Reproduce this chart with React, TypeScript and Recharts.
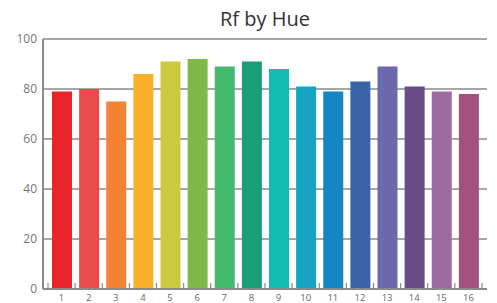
import React from 'react'
import { BarChart, Bar, XAxis, YAxis, CartesianGrid, Cell } from 'recharts'

const hues = ['1', '2', '3', '4', '5', '6', '7', '8', '9', '10', '11', '12', '13', '14', '15', '16']
const rfValues = [79, 80, 75, 86, 91, 92, 89, 91, 88, 81, 79, 83, 89, 81, 79, 78]
const hueColors = [
  '#e8262a', '#e94b4d', '#f48134', '#fbb02c', '#ccc941', '#7fba48', '#45b96d', '#189e7b',
  '#12bcb1', '#14a5c2', '#1585c4', '#3a63a9', '#6b68ae', '#694c85', '#9d6aa2', '#a64f81',
]
const yTicks = [0, 20, 40, 60, 80, 100]

const data = hues.map((hue, i) => ({ hue, rf: rfValues[i] }))

const AXIS = '#8a8a8a'
const FONT = '"Open Sans", sans-serif'

function HueTick(props: any) {
  const { x, y, payload, index } = props
  const half = payload && payload.offset != null ? payload.offset : 13.5
  const axisY = y
  return (
    <g>
      <line x1={x - half} x2={x - half} y1={axisY} y2={axisY - 6} stroke={AXIS} strokeWidth={1.2} />
      {index === hues.length - 1 && (
        <line x1={x + half} x2={x + half} y1={axisY} y2={axisY - 6} stroke={AXIS} strokeWidth={1.2} />
      )}
      <text x={x} y={axisY + 11.5} textAnchor="middle" fontSize={9.5} fill="#666" fontFamily={FONT}>
        {payload.value}
      </text>
    </g>
  )
}

export default function App() {
  return (
    <div style={{ position: 'absolute', left: 0, top: 0, width: 497, height: 303, background: '#fff' }}>
      <div
        style={{
          position: 'absolute',
          left: 43,
          width: 444,
          top: 4,
          textAlign: 'center',
          fontFamily: FONT,
          fontSize: 20,
          color: '#333',
          lineHeight: '30px',
        }}
      >
        Rf by Hue
      </div>
      <BarChart
        width={497}
        height={303}
        data={data}
        margin={{ top: 39, right: 10, left: 0, bottom: 0 }}
        barSize={20}
      >
        <CartesianGrid vertical={false} stroke={AXIS} strokeWidth={1.5} />
        <XAxis
          dataKey="hue"
          height={14}
          padding={{ left: 5, right: 5 }}
          axisLine={{ stroke: AXIS, strokeWidth: 2 }}
          tickLine={false}
          tickSize={0}
          tickMargin={0}
          interval={0}
          tick={<HueTick />}
        />
        <YAxis
          width={43}
          domain={[0, 100]}
          ticks={yTicks}
          axisLine={{ stroke: AXIS, strokeWidth: 2 }}
          tickLine={false}
          tickSize={0}
          tickMargin={6}
          tick={{ fill: '#777', fontSize: 12, fontFamily: FONT }}
        />
        <YAxis
          yAxisId="right"
          orientation="right"
          width={0}
          domain={[0, 100]}
          tick={false}
          tickLine={false}
          axisLine={{ stroke: AXIS, strokeWidth: 2 }}
        />
        <Bar dataKey="rf" isAnimationActive={false}>
          {data.map((d, i) => (
            <Cell key={d.hue} fill={hueColors[i]} />
          ))}
        </Bar>
      </BarChart>
    </div>
  )
}
